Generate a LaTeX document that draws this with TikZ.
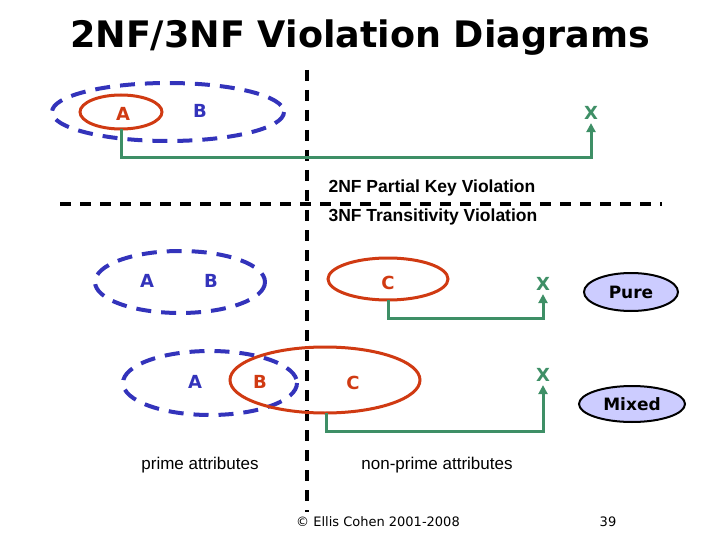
\documentclass[tikz,border=0pt]{standalone}
\usepackage{fontspec}
\setmainfont{DejaVu Sans}
\newfontfamily\arialf{Liberation Sans}
\usetikzlibrary{arrows.meta,shapes.geometric}
\definecolor{bl}{HTML}{3333BB}
\definecolor{rd}{HTML}{D03A12}
\definecolor{gr}{HTML}{3E8F66}
\definecolor{lav}{HTML}{CCCCFF}
\begin{document}
\begin{tikzpicture}[x=1pt,y=-1pt,
  bset/.style={draw=bl,line width=4pt,dash pattern=on 15pt off 10pt},
  rset/.style={draw=rd,line width=3pt},
  lbl/.style={font=\bfseries\fontsize{18}{20}\selectfont},
  conn/.style={draw=gr,line width=3pt,-{Triangle[length=9pt,width=9pt]}},
  sep/.style={draw=black,line width=3.5pt,dash pattern=on 11pt off 9pt},
  txt/.style={font=\arialf\fontsize{17}{20}\selectfont},
  hdr/.style={anchor=west,font=\arialf\bfseries\fontsize{17.5}{20}\selectfont},
  kind/.style={draw=black,line width=2pt,fill=lav,ellipse,inner sep=0pt,font=\bfseries\fontsize{17}{20}\selectfont}]
\useasboundingbox (0,0) rectangle (720,540);
\node[font=\bfseries\fontsize{36.5}{40}\selectfont] (title) at (360,38) {2NF/3NF Violation Diagrams};
% separators
\coordinate (vt) at (307,70); \coordinate (vb) at (307,512);
\coordinate (hl) at (60,204); \coordinate (hr) at (662,204);
\draw[sep] (vt) -- (vb);
\draw[sep] (hl) -- (hr);
\node[hdr] (l2) at (325,188) {2NF Partial Key Violation};
\node[hdr] (l3) at (325,217) {3NF Transitivity Violation};
% top
\draw[bset] (168,112) ellipse [x radius=116,y radius=29];
\draw[rset] (121,112) ellipse [x radius=41,y radius=17];
\coordinate (ta) at (121,129);
\node[lbl,text=rd] (A1) at (123,114) {A};
\node[lbl,text=bl] (B1) at (200,111) {B};
\node[lbl,text=gr] (X1) at (591,113) {X};
\draw[conn] (ta) |- (591,158) -- (X1.south);
% middle
\draw[bset] (180,282) ellipse [x radius=85,y radius=31];
\node[lbl,text=bl] (A2) at (147,281) {A};
\node[lbl,text=bl] (B2) at (211,281) {B};
\draw[rset] (388,279) ellipse [x radius=60,y radius=21];
\coordinate (tc) at (388,300);
\node[lbl,text=rd] (C2) at (388,283) {C};
\node[lbl,text=gr] (X2) at (543,284) {X};
\draw[conn] (tc) |- (543,318) -- (X2.south);
\node[kind,minimum width=94pt,minimum height=38pt] (pure) at (631,292) {Pure};
% bottom
\draw[bset] (210,383) ellipse [x radius=87,y radius=32];
\draw[rset] (325,380) ellipse [x radius=95,y radius=33];
\coordinate (bc) at (326,413);
\node[lbl,text=bl] (A3) at (195,382) {A};
\node[lbl,text=rd] (B3) at (260,382) {B};
\node[lbl,text=rd] (C3) at (353,383) {C};
\node[lbl,text=gr] (X3) at (543,375) {X};
\draw[conn] (bc) |- (543,431) -- (X3.south);
\node[kind,minimum width=106pt,minimum height=36pt] (mixed) at (632,404) {Mixed};
% labels
\node[txt] (pa) at (200,465) {prime attributes};
\node[txt] (npa) at (437,465) {non-prime attributes};
\node[font=\fontsize{13}{15}\selectfont] (foot) at (378,522) {© Ellis Cohen 2001-2008};
\node[font=\fontsize{13}{15}\selectfont] (pg) at (608,522) {39};
\end{tikzpicture}
\end{document}
